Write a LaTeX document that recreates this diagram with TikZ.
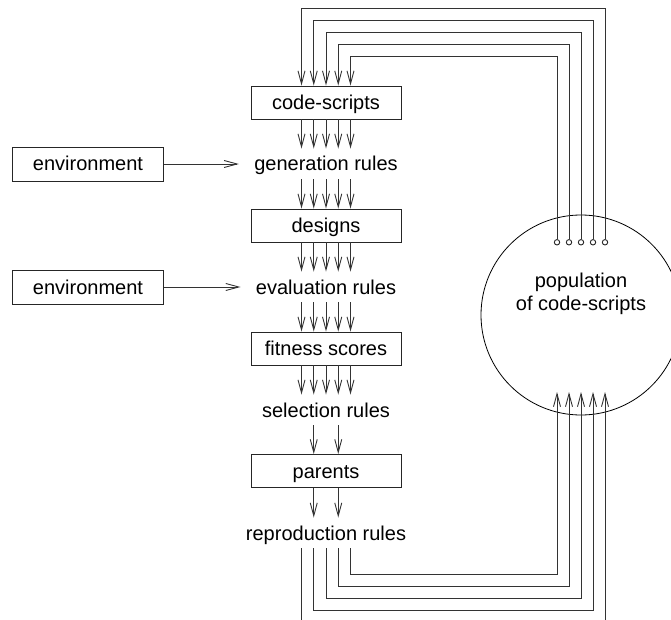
\documentclass[tikz,border=0pt]{standalone}
\usepackage{fontspec}
\setmainfont{Liberation Sans}
\usetikzlibrary{arrows.meta}
\begin{document}
\begin{tikzpicture}[x=1pt,y=-1pt,
  line width=0.9pt,
  flow/.style={draw=black!80, -{Straight Barb[length=13pt,width=7pt]}},
  stage/.style={draw=black!85, rectangle, minimum width=150pt, minimum height=33pt,
    inner sep=0pt, text height=14pt, text depth=0pt, font=\fontsize{20}{24}\selectfont},
  envbox/.style={stage, minimum width=151pt, minimum height=34pt},
  rulelabel/.style={rectangle, inner xsep=15pt, inner ysep=8pt,
    text height=14pt, text depth=0pt, font=\fontsize{20}{24}\selectfont},
  port/.style={draw=black!85, circle, minimum size=5.4pt, inner sep=0pt, fill=white},
  pool/.style={draw=black, line width=0.8pt, circle, minimum size=200pt, inner sep=0pt,
    align=center, text height=14pt, text depth=23.3pt, font=\fontsize{20}{23.3}\selectfont}]

\useasboundingbox (0,0) rectangle (671,620);
\clip (0,0) rectangle (671,620);

% processing chain
\node[stage]     (cs)   at (326,102.5) {code-scripts};
\node[rulelabel] (gen)  at (326,164)   {generation rules};
\node[stage]     (des)  at (326,225.5) {designs};
\node[rulelabel] (eval) at (326,287)   {evaluation rules};
\node[stage]     (fit)  at (326,348.5) {fitness scores};
\node[rulelabel] (sel)  at (326,410)   {selection rules};
\node[stage]     (par)  at (326,471)   {parents};
\node[rulelabel] (rep)  at (326,533)   {reproduction rules};

% environment inputs
\node[envbox] (env1) at (88,164) {environment};
\node[envbox] (env2) at (88,287) {environment};
\draw[flow] (env1.east) -- (gen.west);
\draw[flow] (env2.east) -- (eval.west);

% population pool with its output ports
\node[pool] (pop) at (581,315) {population\\of code-scripts};
\foreach \i in {0,...,4}
  \node[port] (port\i) at ({605-12*\i},242.3) {};

% five parallel streams down the chain
\foreach \dx in {-24.5,-12.25,0,12.25,24.5}{
  \draw[flow] ([xshift=\dx pt]cs.south)   -- ([xshift=\dx pt]gen.north);
  \draw[flow] ([xshift=\dx pt]gen.south)  -- ([xshift=\dx pt]des.north);
  \draw[flow] ([xshift=\dx pt]des.south)  -- ([xshift=\dx pt]eval.north);
  \draw[flow] ([xshift=\dx pt]eval.south) -- ([xshift=\dx pt]fit.north);
  \draw[flow] ([xshift=\dx pt]fit.south)  -- ([xshift=\dx pt]sel.north);
}
\foreach \dx in {-12.25,12.25}{
  \draw[flow] ([xshift=\dx pt]sel.south) -- ([xshift=\dx pt]par.north);
  \draw[flow] ([xshift=\dx pt]par.south) -- ([xshift=\dx pt]rep.north);
}

% loops: pool -> code-scripts (top) and reproduction -> pool (bottom)
\foreach \i in {0,...,4}{
  \pgfmathsetmacro\dx{-24.5+12.25*\i}
  \pgfmathsetmacro\yt{8.3+12.1*\i}
  \pgfmathsetmacro\yb{622-12*\i}
  \coordinate (tc\i) at ({605-12*\i},\yt);
  \coordinate (bc\i) at ({605-12*\i},\yb);
  \coordinate (in\i) at ({605-12*\i},392);
  \draw[flow] (port\i.north) -- (tc\i) -| ([xshift=\dx pt]cs.north);
  \draw[flow] ([xshift=\dx pt]rep.south) |- (bc\i) -- (in\i);
}
\end{tikzpicture}
\end{document}
